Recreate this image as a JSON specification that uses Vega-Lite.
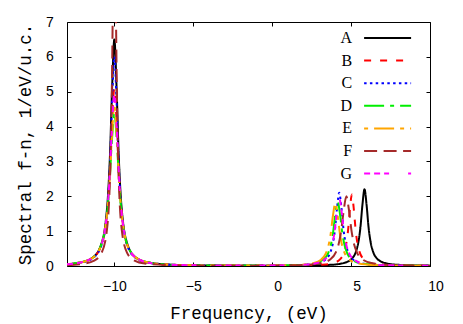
{
"$schema": "https://vega.github.io/schema/vega-lite/v6.json",
"width": 363, "height": 244,
"autosize": {"type": "none"},
"padding": {"left": 67, "top": 22, "right": 33, "bottom": 58},
"background": "white",
"config": {"view": {"stroke": "#000", "strokeWidth": 1}, "font": "Liberation Sans"},
"data": {"values": [
{"s":"A","x":-13,"y":0.053},{"s":"A","x":-12.16,"y":0.1},{"s":"A","x":-11.35,"y":0.25},{"s":"A","x":-10.81,"y":0.65},{"s":"A","x":-10.54,"y":1.3},{"s":"A","x":-10.405,"y":2.0},{"s":"A","x":-10.27,"y":3.25},{"s":"A","x":-10.135,"y":5.2},{"s":"A","x":-10,"y":6.5},{"s":"A","x":-9.865,"y":5.2},{"s":"A","x":-9.73,"y":3.25},{"s":"A","x":-9.595,"y":2.0},{"s":"A","x":-9.46,"y":1.3},{"s":"A","x":-9.19,"y":0.65},{"s":"A","x":-8.65,"y":0.25},{"s":"A","x":-7.84,"y":0.1},{"s":"A","x":-6,"y":0.031},{"s":"A","x":-3,"y":0.012},{"s":"A","x":0,"y":0.009},{"s":"A","x":2,"y":0.013},{"s":"A","x":3.77,"y":0.036},{"s":"A","x":4.55,"y":0.087},{"s":"A","x":5.07,"y":0.222},{"s":"A","x":5.33,"y":0.442},{"s":"A","x":5.46,"y":0.679},{"s":"A","x":5.59,"y":1.1},{"s":"A","x":5.72,"y":1.76},{"s":"A","x":5.85,"y":2.2},{"s":"A","x":5.98,"y":1.76},{"s":"A","x":6.11,"y":1.1},{"s":"A","x":6.24,"y":0.678},{"s":"A","x":6.37,"y":0.441},{"s":"A","x":6.63,"y":0.221},{"s":"A","x":7.15,"y":0.086},{"s":"A","x":7.93,"y":0.035},{"s":"A","x":10,"y":0.01},
{"s":"B","x":-13,"y":0.05},{"s":"B","x":-12.4,"y":0.0785},{"s":"B","x":-11.5,"y":0.196},{"s":"B","x":-10.9,"y":0.51},{"s":"B","x":-10.6,"y":1.02},{"s":"B","x":-10.45,"y":1.569},{"s":"B","x":-10.3,"y":2.55},{"s":"B","x":-10.15,"y":4.08},{"s":"B","x":-10,"y":5.1},{"s":"B","x":-9.85,"y":4.08},{"s":"B","x":-9.7,"y":2.55},{"s":"B","x":-9.55,"y":1.569},{"s":"B","x":-9.4,"y":1.02},{"s":"B","x":-9.1,"y":0.51},{"s":"B","x":-8.5,"y":0.196},{"s":"B","x":-7.6,"y":0.079},{"s":"B","x":-6,"y":0.03},{"s":"B","x":-3,"y":0.011},{"s":"B","x":0,"y":0.009},{"s":"B","x":2,"y":0.016},{"s":"B","x":3.13,"y":0.034},{"s":"B","x":3.85,"y":0.081},{"s":"B","x":4.33,"y":0.207},{"s":"B","x":4.57,"y":0.412},{"s":"B","x":4.69,"y":0.633},{"s":"B","x":4.81,"y":1.027},{"s":"B","x":4.93,"y":1.642},{"s":"B","x":5.05,"y":2.052},{"s":"B","x":5.17,"y":1.642},{"s":"B","x":5.29,"y":1.027},{"s":"B","x":5.41,"y":0.633},{"s":"B","x":5.53,"y":0.412},{"s":"B","x":5.77,"y":0.207},{"s":"B","x":6.25,"y":0.08},{"s":"B","x":6.97,"y":0.033},{"s":"B","x":10,"y":0.006},
{"s":"C","x":-13,"y":0.048},{"s":"C","x":-12.16,"y":0.092},{"s":"C","x":-11.35,"y":0.231},{"s":"C","x":-10.81,"y":0.6},{"s":"C","x":-10.54,"y":1.2},{"s":"C","x":-10.405,"y":1.846},{"s":"C","x":-10.27,"y":3.0},{"s":"C","x":-10.135,"y":4.8},{"s":"C","x":-10,"y":6.0},{"s":"C","x":-9.865,"y":4.8},{"s":"C","x":-9.73,"y":3.0},{"s":"C","x":-9.595,"y":1.846},{"s":"C","x":-9.46,"y":1.2},{"s":"C","x":-9.19,"y":0.6},{"s":"C","x":-8.65,"y":0.231},{"s":"C","x":-7.84,"y":0.093},{"s":"C","x":-6,"y":0.029},{"s":"C","x":-3,"y":0.012},{"s":"C","x":0,"y":0.013},{"s":"C","x":1,"y":0.018},{"s":"C","x":2.09,"y":0.034},{"s":"C","x":2.9,"y":0.083},{"s":"C","x":3.44,"y":0.212},{"s":"C","x":3.71,"y":0.422},{"s":"C","x":3.845,"y":0.648},{"s":"C","x":3.98,"y":1.052},{"s":"C","x":4.115,"y":1.682},{"s":"C","x":4.25,"y":2.102},{"s":"C","x":4.385,"y":1.682},{"s":"C","x":4.52,"y":1.052},{"s":"C","x":4.655,"y":0.648},{"s":"C","x":4.79,"y":0.422},{"s":"C","x":5.06,"y":0.212},{"s":"C","x":5.6,"y":0.082},{"s":"C","x":6.41,"y":0.034},{"s":"C","x":8,"y":0.012},{"s":"C","x":10,"y":0.006},
{"s":"D","x":-13,"y":0.053},{"s":"D","x":-12.64,"y":0.068},{"s":"D","x":-11.65,"y":0.169},{"s":"D","x":-10.99,"y":0.44},{"s":"D","x":-10.66,"y":0.88},{"s":"D","x":-10.495,"y":1.354},{"s":"D","x":-10.33,"y":2.2},{"s":"D","x":-10.165,"y":3.52},{"s":"D","x":-10,"y":4.4},{"s":"D","x":-9.835,"y":3.52},{"s":"D","x":-9.67,"y":2.2},{"s":"D","x":-9.505,"y":1.354},{"s":"D","x":-9.34,"y":0.88},{"s":"D","x":-9.01,"y":0.44},{"s":"D","x":-8.35,"y":0.169},{"s":"D","x":-7.36,"y":0.069},{"s":"D","x":-6,"y":0.032},{"s":"D","x":-3,"y":0.013},{"s":"D","x":0,"y":0.0145},{"s":"D","x":1,"y":0.021},{"s":"D","x":1.75,"y":0.031},{"s":"D","x":2.65,"y":0.073},{"s":"D","x":3.25,"y":0.187},{"s":"D","x":3.55,"y":0.372},{"s":"D","x":3.7,"y":0.571},{"s":"D","x":3.85,"y":0.927},{"s":"D","x":4.0,"y":1.482},{"s":"D","x":4.15,"y":1.852},{"s":"D","x":4.3,"y":1.482},{"s":"D","x":4.45,"y":0.927},{"s":"D","x":4.6,"y":0.571},{"s":"D","x":4.75,"y":0.372},{"s":"D","x":5.05,"y":0.187},{"s":"D","x":5.65,"y":0.073},{"s":"D","x":6.55,"y":0.03},{"s":"D","x":8,"y":0.013},{"s":"D","x":10,"y":0.006},
{"s":"E","x":-13,"y":0.052},{"s":"E","x":-12.56,"y":0.071},{"s":"E","x":-11.6,"y":0.177},{"s":"E","x":-10.96,"y":0.46},{"s":"E","x":-10.64,"y":0.92},{"s":"E","x":-10.48,"y":1.415},{"s":"E","x":-10.32,"y":2.3},{"s":"E","x":-10.16,"y":3.68},{"s":"E","x":-10,"y":4.6},{"s":"E","x":-9.84,"y":3.68},{"s":"E","x":-9.68,"y":2.3},{"s":"E","x":-9.52,"y":1.415},{"s":"E","x":-9.36,"y":0.92},{"s":"E","x":-9.04,"y":0.46},{"s":"E","x":-8.4,"y":0.177},{"s":"E","x":-7.44,"y":0.072},{"s":"E","x":-6,"y":0.031},{"s":"E","x":-3,"y":0.013},{"s":"E","x":0,"y":0.015},{"s":"E","x":1,"y":0.022},{"s":"E","x":1.6,"y":0.03},{"s":"E","x":2.5,"y":0.071},{"s":"E","x":3.1,"y":0.182},{"s":"E","x":3.4,"y":0.362},{"s":"E","x":3.55,"y":0.556},{"s":"E","x":3.7,"y":0.902},{"s":"E","x":3.85,"y":1.442},{"s":"E","x":4.0,"y":1.802},{"s":"E","x":4.15,"y":1.442},{"s":"E","x":4.3,"y":0.902},{"s":"E","x":4.45,"y":0.556},{"s":"E","x":4.6,"y":0.362},{"s":"E","x":4.9,"y":0.182},{"s":"E","x":5.5,"y":0.071},{"s":"E","x":6.4,"y":0.03},{"s":"E","x":8,"y":0.011},{"s":"E","x":10,"y":0.006},
{"s":"F","x":-13,"y":0.028},{"s":"F","x":-11.92,"y":0.069},{"s":"F","x":-11.28,"y":0.154},{"s":"F","x":-10.8,"y":0.385},{"s":"F","x":-10.48,"y":1.0},{"s":"F","x":-10.32,"y":2.0},{"s":"F","x":-10.24,"y":3.077},{"s":"F","x":-10.16,"y":5.0},{"s":"F","x":-10.08,"y":8.0},{"s":"F","x":-10,"y":10},{"s":"F","x":-9.92,"y":8.0},{"s":"F","x":-9.84,"y":5.0},{"s":"F","x":-9.76,"y":3.077},{"s":"F","x":-9.68,"y":2.0},{"s":"F","x":-9.52,"y":1.0},{"s":"F","x":-9.2,"y":0.385},{"s":"F","x":-8.72,"y":0.154},{"s":"F","x":-8.08,"y":0.069},{"s":"F","x":-6,"y":0.018},{"s":"F","x":-3,"y":0.009},{"s":"F","x":0,"y":0.012},{"s":"F","x":1,"y":0.018},{"s":"F","x":2.06,"y":0.032},{"s":"F","x":3.05,"y":0.078},{"s":"F","x":3.71,"y":0.201},{"s":"F","x":4.04,"y":0.401},{"s":"F","x":4.205,"y":0.616},{"s":"F","x":4.37,"y":1.001},{"s":"F","x":4.535,"y":1.601},{"s":"F","x":4.7,"y":2.001},{"s":"F","x":4.865,"y":1.601},{"s":"F","x":5.03,"y":1.001},{"s":"F","x":5.195,"y":0.616},{"s":"F","x":5.36,"y":0.401},{"s":"F","x":5.69,"y":0.201},{"s":"F","x":6.35,"y":0.078},{"s":"F","x":7.34,"y":0.032},{"s":"F","x":8.5,"y":0.016},{"s":"F","x":10,"y":0.008},
{"s":"G","x":-13,"y":0.052},{"s":"G","x":-12.48,"y":0.075},{"s":"G","x":-11.55,"y":0.188},{"s":"G","x":-10.93,"y":0.49},{"s":"G","x":-10.62,"y":0.98},{"s":"G","x":-10.465,"y":1.508},{"s":"G","x":-10.31,"y":2.45},{"s":"G","x":-10.155,"y":3.92},{"s":"G","x":-10,"y":4.9},{"s":"G","x":-9.845,"y":3.92},{"s":"G","x":-9.69,"y":2.45},{"s":"G","x":-9.535,"y":1.508},{"s":"G","x":-9.38,"y":0.98},{"s":"G","x":-9.07,"y":0.49},{"s":"G","x":-8.45,"y":0.188},{"s":"G","x":-7.52,"y":0.076},{"s":"G","x":-6,"y":0.031},{"s":"G","x":-3,"y":0.013},{"s":"G","x":0,"y":0.0144},{"s":"G","x":1,"y":0.0205},{"s":"G","x":1.85,"y":0.032},{"s":"G","x":2.75,"y":0.077},{"s":"G","x":3.35,"y":0.197},{"s":"G","x":3.65,"y":0.392},{"s":"G","x":3.8,"y":0.602},{"s":"G","x":3.95,"y":0.977},{"s":"G","x":4.1,"y":1.562},{"s":"G","x":4.25,"y":1.952},{"s":"G","x":4.4,"y":1.562},{"s":"G","x":4.55,"y":0.977},{"s":"G","x":4.7,"y":0.602},{"s":"G","x":4.85,"y":0.392},{"s":"G","x":5.15,"y":0.197},{"s":"G","x":5.75,"y":0.077},{"s":"G","x":6.65,"y":0.032},{"s":"G","x":8,"y":0.014},{"s":"G","x":10,"y":0.006}
]},
"layer": [
{"mark": {"type": "line", "clip": true, "strokeWidth": 2, "interpolate": "monotone"},
 "encoding": {
  "x": {"field": "x", "type": "quantitative", "scale": {"domain": [-13, 10], "nice": false, "zero": false},
        "axis": {"values": [-10, -5, 0, 5, 10], "grid": false, "domain": false, "tickSize": -4, "tickColor": "#000", "labelFont": "Liberation Sans", "labelFontSize": 14, "labelColor": "#000", "labelPadding": 17, "labelFlush": false, "labelOffset": {"condition": {"test": "datum.value >= 0", "value": 5.5}, "value": 0}, "title": "Frequency, (eV)", "titleFont": "Liberation Mono", "titleFontSize": 17.5, "titleFontWeight": "normal", "titleColor": "#000", "titlePadding": 11}},
  "y": {"field": "y", "type": "quantitative", "scale": {"domain": [0, 7], "nice": false},
        "axis": {"values": [0, 1, 2, 3, 4, 5, 6, 7], "grid": false, "domain": false, "tickSize": -4, "tickColor": "#000", "labelFont": "Liberation Sans", "labelFontSize": 14, "labelColor": "#000", "labelPadding": 17.7, "labelFlush": false, "title": "Spectral f-n, 1/eV/u.c.", "titleFont": "Liberation Mono", "titleFontSize": 17.5, "titleFontWeight": "normal", "titleColor": "#000", "titlePadding": 11}},
  "color": {"field": "s", "type": "nominal",
            "scale": {"domain": ["A", "B", "C", "D", "E", "F", "G"], "range": ["#000000", "#ff0000", "#0000ff", "#00ee00", "#ffa500", "#a52a2a", "#ff00ff"]},
            "legend": {"title": null, "orient": "none", "legendX": 295, "legendY": 8, "padding": 0, "symbolType": "M-4,0H4", "symbolSize": 138, "symbolOffset": 17.6, "symbolStrokeWidth": 2, "rowPadding": 6.6, "labelFont": "Liberation Serif", "labelFontSize": 16, "labelColor": "#000", "labelAlign": "right", "labelOffset": -43.5}},
  "strokeDash": {"field": "s", "type": "nominal",
            "scale": {"domain": ["A", "B", "C", "D", "E", "F", "G"], "range": [[1, 0], [7, 9], [2.5, 3.3], [20, 6, 4, 6], [4, 6, 20, 6, 4, 6], [13, 6.5], [6, 4, 6, 4, 5, 19]]},
            "legend": {"title": null, "orient": "none", "legendX": 295, "legendY": 8, "padding": 0, "symbolType": "M-4,0H4", "symbolSize": 138, "symbolOffset": 17.6, "symbolStrokeWidth": 2, "rowPadding": 6.6, "labelFont": "Liberation Serif", "labelFontSize": 16, "labelColor": "#000", "labelAlign": "right", "labelOffset": -43.5}}
 }},
{"mark": {"type": "point", "opacity": 0},
 "encoding": {
  "x": {"field": "x", "type": "quantitative", "axis": {"orient": "top", "values": [-10, -5, 0, 5, 10], "labels": false, "title": null, "grid": false, "domain": false, "tickSize": -4, "tickColor": "#000"}},
  "y": {"field": "y", "type": "quantitative", "axis": {"orient": "right", "values": [0, 1, 2, 3, 4, 5, 6, 7], "labels": false, "title": null, "grid": false, "domain": false, "tickSize": -4, "tickColor": "#000"}}
 }}
],
"resolve": {"axis": {"x": "independent", "y": "independent"}}
}
